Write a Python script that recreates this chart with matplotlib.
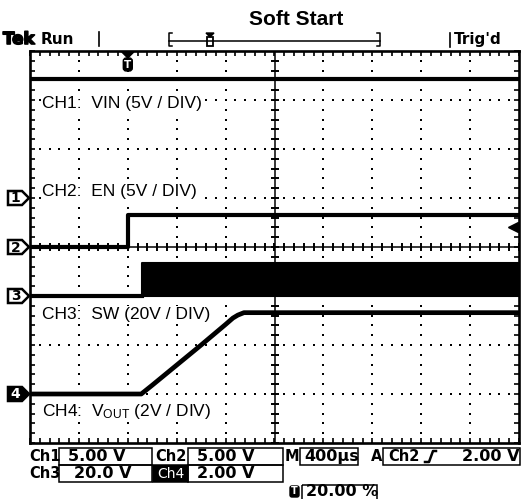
import numpy as np
import matplotlib
matplotlib.use("Agg")
import matplotlib.pyplot as plt
from matplotlib.patches import Rectangle, Polygon, FancyBboxPatch
import matplotlib.patheffects as pe

plt.rcParams['font.family'] = ['Liberation Sans', 'DejaVu Sans']
plt.rcParams['mathtext.fontset'] = 'custom'
plt.rcParams['mathtext.rm'] = 'Liberation Sans'
plt.rcParams['mathtext.default'] = 'regular'

# ---------------- data ----------------
title = "Soft Start"
time_per_div_ms = 0.4
trigger_pos_pct = 20.0
t_min_ms = -trigger_pos_pct / 100 * 10 * time_per_div_ms
t_max_ms = t_min_ms + 10 * time_per_div_ms

ch_scale_v = [5.0, 5.0, 20.0, 2.0]      # V/div
ch_offset_div = [1, 0, -1, -3]          # ground marker position (div)
ch_labels = ["CH1:  VIN (5V / DIV)", "CH2:  EN (5V / DIV)",
             "CH3:  SW (20V / DIV)", "CH4:  V$_{OUT}$ (2V / DIV)"]
ch_label_y_div = [2.93, 1.13, -1.38, -3.35]

vin_t = [t_min_ms, t_max_ms]
vin_v = [12.1, 12.1]

en_t = [t_min_ms, 0.0, 0.0, t_max_ms]
en_v = [0.0, 0.0, 3.3, 3.3]

sw_on_ms = 0.115
sw_peak_v = 13.5

vout_t = [t_min_ms, 0.11, 0.14, 0.20, 0.40, 0.60, 0.80, 0.86, 0.90, 0.95, t_max_ms]
vout_v = [0.0, 0.0, 0.12, 0.36, 1.18, 2.00, 2.84, 3.10, 3.22, 3.32, 3.32]

trig_level_v = 2.0

status_row1 = ["Ch1", "5.00 V", "Ch2", "5.00 V", "M", "400µs", "A", "Ch2", "2.00 V"]
status_row2 = ["Ch3", "20.0 V", "Ch4", "2.00 V"]
status_row3 = "20.00 %"


def to_div(v, ch):
    return np.asarray(v, dtype=float) / ch_scale_v[ch] + ch_offset_div[ch]


# ---------------- figure ----------------
W, H = 521, 499
fig = plt.figure(figsize=(W / 100, H / 100), dpi=100)
L, R, T, B = 30, 519, 51, 443
ax = fig.add_axes([L / W, 1 - B / H, (R - L) / W, (B - T) / H])
ax.set_xlim(t_min_ms, t_max_ms)
ax.set_ylim(-4, 4)

for s in ax.spines.values():
    s.set_linewidth(1.9)
ax.set_xticks(np.arange(t_min_ms, t_max_ms + 1e-9, time_per_div_ms / 5))
ax.set_yticks(np.arange(-4, 4.001, 0.2))
ax.tick_params(direction='in', length=3.3, width=1.2, top=True, right=True,
               labelbottom=False, labelleft=False)

# graticule dots
ys = np.arange(-4, 4.001, 0.2)
xs = np.arange(t_min_ms, t_max_ms + 1e-9, time_per_div_ms / 5)
for k in range(1, 10):
    if k == 5:
        continue
    x = t_min_ms + k * time_per_div_ms
    ax.plot(np.full_like(ys, x), ys, ls='none', marker='s', ms=1.6, mew=0, color='k')
for yv in [-3, -2, -1, 1, 2, 3]:
    ax.plot(xs, np.full_like(xs, yv), ls='none', marker='s', ms=1.6, mew=0, color='k')
xc = (t_min_ms + t_max_ms) / 2
ax.axvline(xc, color='k', lw=1.1)
ax.axhline(0, color='k', lw=1.1)
ax.plot(np.full_like(ys, xc), ys, ls='none', marker='_', ms=5.5, mew=1.4, color='k')
ax.plot(xs, np.zeros_like(xs), ls='none', marker='|', ms=5.5, mew=1.4, color='k')

# channel labels (white background hides the graticule)
for lab, yl in zip(ch_labels, ch_label_y_div):
    ax.text(t_min_ms + 0.095, yl, lab, fontsize=12.5, va='center', ha='left',
            color='k', zorder=3,
            bbox=dict(boxstyle='square,pad=0.05', fc='white', ec='none'))

# traces
ax.plot(vin_t, to_div(vin_v, 0), color='k', lw=3.0, zorder=4)
ax.plot(en_t, to_div(en_v, 1), color='k', lw=3.0, zorder=4)
ax.plot([t_min_ms, sw_on_ms], to_div([0, 0], 2), color='k', lw=3.0, zorder=4)
ax.fill_between([sw_on_ms, t_max_ms], to_div([0, 0], 2), to_div([sw_peak_v, sw_peak_v], 2),
                color='k', lw=1.5, ec='k', zorder=4)
ax.plot(vout_t, to_div(vout_v, 3), color='k', lw=3.4, solid_joinstyle='round', zorder=4)

# trigger level marker
ax.plot([t_max_ms - 0.045], [to_div(trig_level_v, 1)], marker='<', ms=7, color='k', clip_on=False)
ax.plot([t_max_ms - 0.04, t_max_ms], [to_div(trig_level_v, 1)] * 2, color='k', lw=1.5)

# ---------------- overlay in pixel coordinates ----------------
bg = fig.add_axes([0, 0, 1, 1], zorder=5)
bg.set_xlim(0, W)
bg.set_ylim(H, 0)
bg.axis('off')
bg.patch.set_alpha(0)

div_px = (B - T) / 8


def t_to_px(t):
    return L + (t - t_min_ms) / (t_max_ms - t_min_ms) * (R - L)


# channel ground markers
for i, off in enumerate(ch_offset_div):
    yc = T + (4 - off) * div_px
    filled = (i == 3)
    poly = Polygon([(8, yc - 7), (22, yc - 7), (29, yc), (22, yc + 7), (8, yc + 7)],
                   closed=True, fc='k' if filled else 'white', ec='k', lw=1.8)
    bg.add_patch(poly)
    bg.text(15.5, yc + 0.5, str(i + 1), ha='center', va='center', fontsize=10,
            fontweight='bold', color='white' if filled else 'k', family='DejaVu Sans')

# trigger position marker
tx = t_to_px(0.0)
bg.add_patch(Polygon([(tx - 6, 52), (tx + 6, 52), (tx, 58)], closed=True, fc='k', ec='k'))
bg.add_patch(FancyBboxPatch((tx - 4.5, 58), 9, 13, boxstyle='round,pad=0,rounding_size=3',
                            fc='k', ec='k'))
bg.text(tx, 64.5, 'T', color='white', ha='center', va='center', fontsize=7.5,
        fontweight='bold', family='DejaVu Sans')

# header
bg.text(3, 39, 'Tek', ha='left', va='center', fontsize=12, fontweight='bold',
        family='DejaVu Sans', path_effects=[pe.withStroke(linewidth=1.2, foreground='k')])
bg.text(41, 39, 'Run', ha='left', va='center', fontsize=11, fontweight='bold', family='DejaVu Sans')
bg.plot([99, 99], [32, 46], color='k', lw=1.2)
bg.plot([169, 380], [41, 41], color='k', lw=1.1)
for xb, d in [(169, 1), (380, -1)]:
    bg.plot([xb + 3 * d, xb, xb, xb + 3 * d], [33, 33, 46, 46], color='k', lw=1.1)
bg.add_patch(Rectangle((207, 37), 6, 9, fc='white', ec='k', lw=1.3))
bg.add_patch(Polygon([(206, 33), (214, 33), (210, 37)], closed=True, fc='k', ec='k'))
bg.plot([450, 450], [33, 47], color='k', lw=1.2)
bg.text(454, 39, "Trig'd", ha='left', va='center', fontsize=11, fontweight='bold', family='DejaVu Sans')
bg.text(296, 19, title, ha='center', va='center', fontsize=15, fontweight='bold')

# status area
sfont = dict(fontsize=10.5, fontweight='bold', family='DejaVu Sans', va='center')
vfont = dict(fontsize=11.5, fontweight='bold', family='DejaVu Sans', va='center')
lwb = 1.1
y1, y2, y3 = 456.5, 473.5, 492
bg.add_patch(Rectangle((59, 448), 93, 17, fc='none', ec='k', lw=lwb))
bg.add_patch(Rectangle((188, 448), 95, 17, fc='none', ec='k', lw=lwb))
bg.add_patch(Rectangle((300, 448), 58, 17, fc='none', ec='k', lw=lwb))
bg.add_patch(Rectangle((383, 448), 137, 17, fc='none', ec='k', lw=lwb))
bg.add_patch(Rectangle((59, 465), 93, 17, fc='none', ec='k', lw=lwb))
bg.add_patch(Rectangle((153, 465), 35, 17, fc='k', ec='k', lw=lwb))
bg.add_patch(Rectangle((188, 465), 95, 17, fc='none', ec='k', lw=lwb))
bg.add_patch(Rectangle((302, 485), 75, 16, fc='none', ec='k', lw=lwb))
bg.add_patch(FancyBboxPatch((290, 486), 9, 11, boxstyle='round,pad=0,rounding_size=2', fc='k', ec='k'))
bg.text(294.5, 491.5, 'T', color='white', ha='center', va='center', fontsize=7,
        fontweight='bold', family='DejaVu Sans')

bg.text(29, y1, status_row1[0], ha='left', **sfont)
bg.text(68, y1, status_row1[1], ha='left', **vfont)
bg.text(155, y1, status_row1[2], ha='left', **sfont)
bg.text(197, y1, status_row1[3], ha='left', **vfont)
bg.text(285, y1, status_row1[4], ha='left', **sfont)
bg.text(304, y1, status_row1[5], ha='left', **vfont)
bg.text(371, y1, status_row1[6], ha='left', **sfont)
bg.text(388, y1, status_row1[7], ha='left', **sfont)
bg.plot([425, 429, 433, 436], [462, 462, 451, 451], color='k', lw=1.8)
bg.text(519, y1, status_row1[8], ha='right', **vfont)

bg.text(29, y2, status_row2[0], ha='left', **sfont)
bg.text(74, y2, status_row2[1], ha='left', **vfont)
bg.text(170.5, y2, status_row2[2], ha='center', color='white',
        fontsize=10, family='DejaVu Sans', va='center')
bg.text(197, y2, status_row2[3], ha='left', **vfont)
bg.text(306, y3, status_row3, ha='left', **vfont)

fig.savefig("out.png", dpi=100, facecolor='white')
